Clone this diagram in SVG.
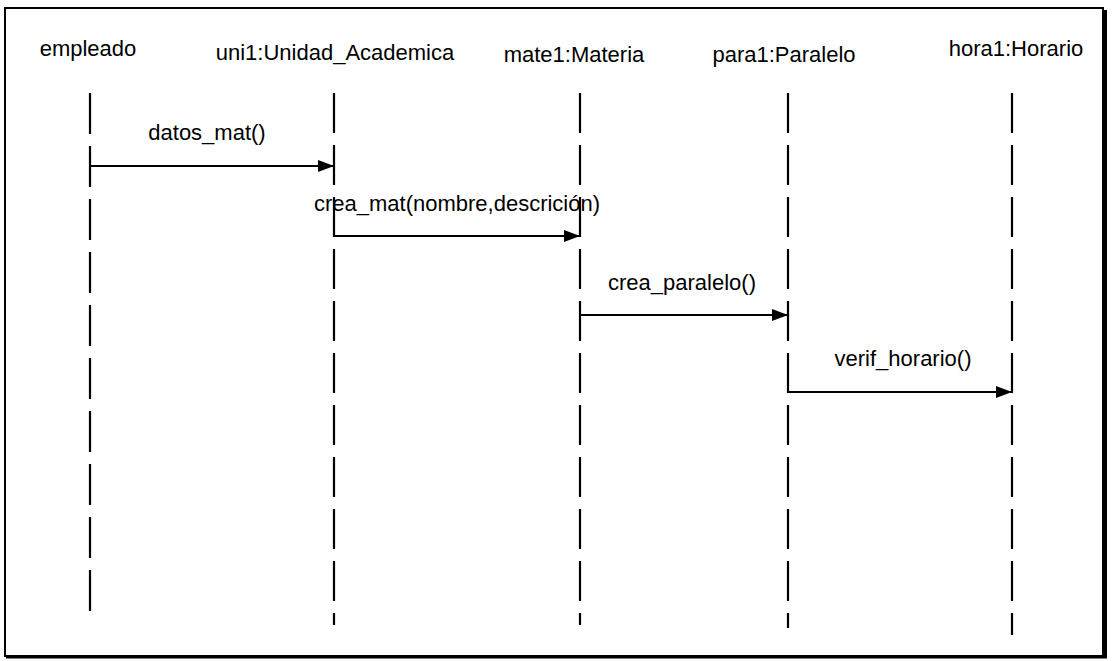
<svg xmlns="http://www.w3.org/2000/svg" width="1113" height="661" viewBox="0 0 1113 661">
<defs>
<style>
text{font-family:"Liberation Sans",Arial,sans-serif;font-size:22px;fill:#000;text-anchor:middle}
.life{stroke:#000;stroke-width:2.2;stroke-dasharray:40 12;fill:none}
.msg{stroke:#000;stroke-width:2;fill:none;marker-end:url(#arr)}
</style>
<marker id="arr" viewBox="0 0 16 12" refX="16" refY="6" markerWidth="16" markerHeight="12" markerUnits="userSpaceOnUse" orient="auto">
<path d="M0,0 L16,6 L0,12 Z" fill="#000"/>
</marker>
</defs>
<rect x="0" y="0" width="1113" height="661" fill="#fff"/>
<g id="frame">
<rect x="5" y="8" width="1098" height="648" fill="none" stroke="#000" stroke-width="2"/>
<line x1="1105" y1="10" x2="1105" y2="658" stroke="#000" stroke-width="4"/>
<line x1="6" y1="657" x2="1107" y2="657" stroke="#000" stroke-width="3"/>
</g>
<g id="empleado">
<text x="88" y="56">empleado</text>
<line class="life" x1="90" y1="93" x2="90" y2="615" style="stroke-dasharray:41 12"/>
</g>
<g id="uni1">
<text x="335" y="60">uni1:Unidad_Academica</text>
<line class="life" x1="334" y1="93" x2="334" y2="625"/>
</g>
<g id="mate1">
<text x="574" y="62">mate1:Materia</text>
<line class="life" x1="580" y1="93" x2="580" y2="625"/>
</g>
<g id="para1">
<text x="784" y="62">para1:Paralelo</text>
<line class="life" x1="788" y1="93" x2="788" y2="628"/>
</g>
<g id="hora1">
<text x="1016" y="56">hora1:Horario</text>
<line class="life" x1="1012" y1="93" x2="1012" y2="635"/>
</g>
<g id="connectors">
<line class="msg" x1="90" y1="166" x2="334" y2="166"/>
<text x="207" y="140">datos_mat()</text>
<line class="msg" x1="334" y1="236" x2="580" y2="236"/>
<text x="457" y="211">crea_mat(nombre,descrición)</text>
<line class="msg" x1="580" y1="315" x2="788" y2="315"/>
<text x="682" y="290">crea_paralelo()</text>
<line class="msg" x1="788" y1="392" x2="1012" y2="392"/>
<text x="903" y="366">verif_horario()</text>
</g>
</svg>
